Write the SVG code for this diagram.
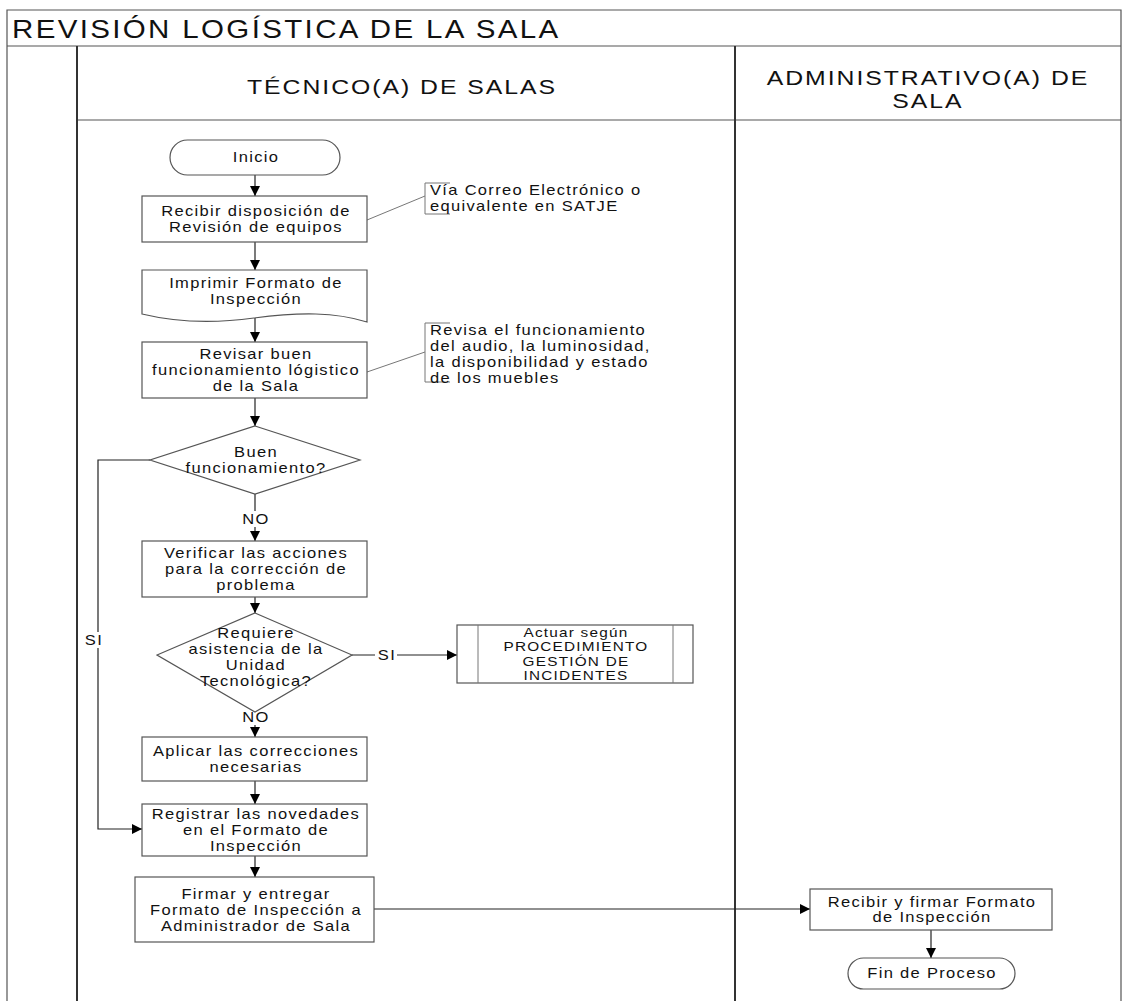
<svg xmlns="http://www.w3.org/2000/svg" width="1131" height="1001" viewBox="0 0 1131 1001">
  <defs>
    <marker id="arrow" viewBox="0 0 10 10" refX="10" refY="5" markerWidth="10" markerHeight="10" markerUnits="userSpaceOnUse" orient="auto">
      <path d="M0,0 L10,5 L0,10 Z" fill="#000"/>
    </marker>
    <style>
      text { font-family: "Liberation Sans", Arial, sans-serif; fill: #111; letter-spacing: 0.08em;
             transform-box: fill-box; transform: scaleX(1.18); }
      .lbl { font-size: 14px; text-anchor: middle; dominant-baseline: central; transform-origin: center; }
      .small { font-size: 13px; }
      .note { font-size: 14px; text-anchor: start; dominant-baseline: central; transform-origin: left center; }
      .title { font-size: 25px; dominant-baseline: central; transform-origin: left center; }
      .hdr { font-size: 21px; text-anchor: middle; dominant-baseline: central; transform-origin: center; }
      .shape { fill: #fff; stroke: #555; stroke-width: 1.2; }
      .frame { fill: none; stroke: #555; stroke-width: 1.2; }
      .lane { stroke: #333; stroke-width: 2; }
      .edge { fill: none; stroke: #222; stroke-width: 1.2; }
      .thin { fill: none; stroke: #777; stroke-width: 1; }
    </style>
  </defs>

  <rect width="1131" height="1001" fill="#fff"/>

  <!-- pool frame and lanes -->
  <g id="pool">
    <path class="frame" d="M7,1001 V10 H1121 V1001"/>
    <line class="frame" x1="7" y1="46" x2="1121" y2="46"/>
    <line class="frame" x1="77" y1="120" x2="1121" y2="120"/>
    <line class="lane" x1="77" y1="46" x2="77" y2="1001"/>
    <line class="lane" x1="735" y1="46" x2="735" y2="1001"/>
    <text class="title" x="12" y="29">REVISIÓN LOGÍSTICA DE LA SALA</text>
    <text class="hdr" x="402" y="87">TÉCNICO(A) DE SALAS</text>
    <text class="hdr" x="928" y="78">ADMINISTRATIVO(A) DE</text>
    <text class="hdr" x="928" y="101">SALA</text>
  </g>

  <!-- connectors -->
  <g id="connectors">
    <line class="edge" x1="255" y1="175" x2="255" y2="196" marker-end="url(#arrow)"/>
    <line class="edge" x1="255" y1="242" x2="255" y2="270" marker-end="url(#arrow)"/>
    <line class="edge" x1="255" y1="318" x2="255" y2="342" marker-end="url(#arrow)"/>
    <line class="edge" x1="255" y1="398" x2="255" y2="426" marker-end="url(#arrow)"/>
    <line class="edge" x1="255" y1="494" x2="255" y2="541" marker-end="url(#arrow)"/>
    <line class="edge" x1="255" y1="597" x2="255" y2="613" marker-end="url(#arrow)"/>
    <line class="edge" x1="255" y1="712" x2="255" y2="737" marker-end="url(#arrow)"/>
    <line class="edge" x1="255" y1="781" x2="255" y2="804" marker-end="url(#arrow)"/>
    <line class="edge" x1="255" y1="856" x2="255" y2="877" marker-end="url(#arrow)"/>
    <polyline class="edge" points="150,460 98,460 98,829 142,829" marker-end="url(#arrow)"/>
    <line class="edge" x1="352" y1="655" x2="457" y2="655" marker-end="url(#arrow)"/>
    <line class="edge" x1="374" y1="909" x2="810" y2="909" marker-end="url(#arrow)"/>
    <line class="edge" x1="931" y1="930" x2="931" y2="958" marker-end="url(#arrow)"/>
    <!-- annotation leaders -->
    <line class="thin" x1="367" y1="220" x2="425" y2="196"/>
    <line class="thin" x1="367" y1="372" x2="425" y2="352"/>
    <!-- edge labels -->
    <rect x="238" y="511" width="34" height="16" fill="#fff"/>
    <text class="lbl" x="256" y="519">NO</text>
    <rect x="238" y="709" width="34" height="16" fill="#fff"/>
    <text class="lbl" x="256" y="717">NO</text>
    <rect x="375" y="647" width="22" height="16" fill="#fff"/>
    <text class="lbl" x="387" y="655">SI</text>
    <rect x="83" y="632" width="22" height="16" fill="#fff"/>
    <text class="lbl" x="94" y="640">SI</text>
  </g>

  <g id="inicio">
    <rect class="shape" x="170" y="140" width="170" height="35" rx="17.5"/>
    <text class="lbl" x="256" y="157">Inicio</text>
  </g>

  <g id="recibir-disposicion">
    <rect class="shape" x="142" y="196" width="225" height="46"/>
    <text class="lbl" x="256" y="211">Recibir disposición de</text>
    <text class="lbl" x="256" y="227">Revisión de equipos</text>
  </g>

  <g id="nota-correo">
    <path class="thin" d="M450,183 H425 V214 H450"/>
    <text class="note" x="430" y="190">Vía Correo Electrónico o</text>
    <text class="note" x="430" y="206">equivalente en SATJE</text>
  </g>

  <g id="imprimir-formato">
    <path class="shape" d="M142,270 H367 V322 C335,312 300,312 254,318 C210,324 175,322 142,314 Z"/>
    <text class="lbl" x="256" y="283">Imprimir Formato de</text>
    <text class="lbl" x="256" y="299">Inspección</text>
  </g>

  <g id="revisar-funcionamiento">
    <rect class="shape" x="142" y="342" width="225" height="56"/>
    <text class="lbl" x="256" y="354">Revisar buen</text>
    <text class="lbl" x="256" y="370">funcionamiento lógistico</text>
    <text class="lbl" x="256" y="386">de la Sala</text>
  </g>

  <g id="nota-revisa">
    <path class="thin" d="M450,323 H425 V382 H450"/>
    <text class="note" x="430" y="330">Revisa el funcionamiento</text>
    <text class="note" x="430" y="346">del audio, la luminosidad,</text>
    <text class="note" x="430" y="362">la disponibilidad y estado</text>
    <text class="note" x="430" y="378">de los muebles</text>
  </g>

  <g id="buen-funcionamiento">
    <polygon class="shape" points="255,426 360,460 255,494 150,460"/>
    <text class="lbl" x="256" y="452">Buen</text>
    <text class="lbl" x="256" y="468">funcionamiento?</text>
  </g>

  <g id="verificar-acciones">
    <rect class="shape" x="142" y="541" width="225" height="56"/>
    <text class="lbl" x="256" y="553">Verificar las acciones</text>
    <text class="lbl" x="256" y="569">para la corrección de</text>
    <text class="lbl" x="256" y="585">problema</text>
  </g>

  <g id="requiere-asistencia">
    <polygon class="shape" points="255,613 352,655 255,712 157,655"/>
    <text class="lbl" x="256" y="633">Requiere</text>
    <text class="lbl" x="256" y="649">asistencia de la</text>
    <text class="lbl" x="256" y="665">Unidad</text>
    <text class="lbl" x="256" y="681">Tecnológica?</text>
  </g>

  <g id="actuar-procedimiento">
    <rect class="shape" x="457" y="625" width="236" height="58"/>
    <line class="thin" x1="478" y1="625" x2="478" y2="683" stroke="#555"/>
    <line class="thin" x1="673" y1="625" x2="673" y2="683" stroke="#555"/>
    <text class="lbl small" x="576" y="632">Actuar según</text>
    <text class="lbl small" x="576" y="646.5">PROCEDIMIENTO</text>
    <text class="lbl small" x="576" y="661">GESTIÓN DE</text>
    <text class="lbl small" x="576" y="675.5">INCIDENTES</text>
  </g>

  <g id="aplicar-correcciones">
    <rect class="shape" x="142" y="737" width="225" height="44"/>
    <text class="lbl" x="256" y="751">Aplicar las correcciones</text>
    <text class="lbl" x="256" y="767">necesarias</text>
  </g>

  <g id="registrar-novedades">
    <rect class="shape" x="142" y="804" width="225" height="52"/>
    <text class="lbl" x="256" y="814">Registrar las novedades</text>
    <text class="lbl" x="256" y="830">en el Formato de</text>
    <text class="lbl" x="256" y="846">Inspección</text>
  </g>

  <g id="firmar-entregar">
    <rect class="shape" x="135" y="877" width="239" height="65"/>
    <text class="lbl" x="256" y="894">Firmar y entregar</text>
    <text class="lbl" x="256" y="910">Formato de Inspección a</text>
    <text class="lbl" x="256" y="926">Administrador de Sala</text>
  </g>

  <g id="recibir-firmar">
    <rect class="shape" x="810" y="889" width="242" height="41"/>
    <text class="lbl" x="932" y="902">Recibir y firmar Formato</text>
    <text class="lbl" x="932" y="917">de Inspección</text>
  </g>

  <g id="fin-proceso">
    <rect class="shape" x="848" y="958" width="167" height="31" rx="15.5"/>
    <text class="lbl" x="932" y="973">Fin de Proceso</text>
  </g>
</svg>
